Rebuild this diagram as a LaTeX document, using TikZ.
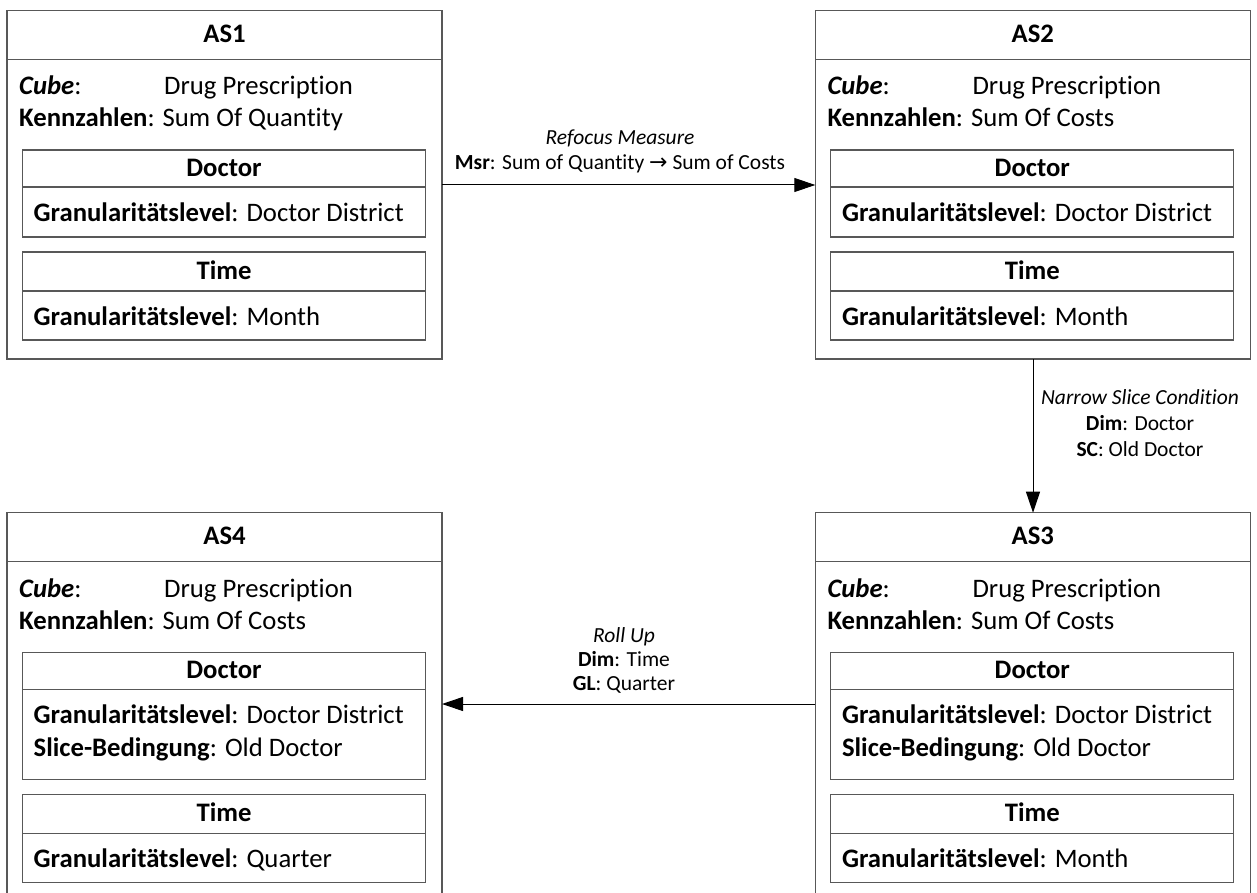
\documentclass[tikz,border=0pt]{standalone}
\usepackage{fontspec}
\setmainfont{Carlito}[Ligatures=NoCommon]
\newfontfamily\symfont{DejaVu Sans}
\usetikzlibrary{arrows.meta}

\definecolor{boxgray}{RGB}{88,88,88}
\newcommand\bodysize{\fontsize{26.7}{32.5}\selectfont}
\newcommand\lblsize{\fontsize{21.5}{25}\selectfont}

\tikzset{
  outerbox/.style={draw=boxgray, line width=1.1pt, rectangle, inner sep=0pt, outer sep=0pt},
  innerbox/.style={draw=boxgray, line width=1.1pt, rectangle, inner sep=0pt, outer sep=0pt},
  divider/.style={draw=boxgray, line width=1.1pt},
  ttl/.style={font=\bodysize\bfseries, anchor=base, inner sep=0pt},
  txt/.style={font=\bodysize, anchor=base west, inner sep=0pt},
  lbl/.style={font=\lblsize, anchor=base, inner sep=0pt},
  arr/.style={draw=black, line width=1pt, -{Triangle[length=21pt,width=14pt]}}
}

% #1 name, #2 left, #3 top, #4 title, #5 measure, #6 extra height of the Doctor box,
% #7 time level, #8 outer height
\newcommand\asbox[8]{%
  \begin{scope}[shift={(#2,#3)}]
    \node[outerbox, minimum width=435pt, minimum height=#8pt, anchor=north west] (#1) at (0,0) {};
    \draw[divider] (0,49) -- (435,49);
    \node[ttl] (#1-title) at (217.5,32) {#4};
    \node[txt] (#1-cube) at (12,84.5) {\textbf{\textit{Cube}}:};
    \node[txt] (#1-cubev) at (157,84.5) {Drug Prescription};
    \node[txt] (#1-kz) at (12,116.5) {\textbf{Kennzahlen}: #5};
    % Doctor dimension
    \node[innerbox, minimum width=403pt, minimum height={87pt+#6pt}, anchor=north west] (#1-doc) at (15.5,139.5) {};
    \draw[divider] (15.5,176.5) -- (418.5,176.5);
    \node[ttl] (#1-doct) at (217,166) {Doctor};
    \node[txt] (#1-docgl) at (26.5,211) {\textbf{Granularitätslevel}: Doctor District};
    % Time dimension
    \node[innerbox, minimum width=403pt, minimum height=88pt, anchor=north west] (#1-time) at (15.5,241.5+#6) {};
    \draw[divider] (15.5,280.5+#6) -- (418.5,280.5+#6);
    \node[ttl] (#1-timet) at (217,269+#6) {Time};
    \node[txt] (#1-timegl) at (26.5,314.5+#6) {\textbf{Granularitätslevel}: #7};
  \end{scope}%
}

\begin{document}
\begin{tikzpicture}[x=1pt, y=-1pt]
  \clip (0,0) rectangle (1257,893);
  \fill[white] (0,0) rectangle (1257,893);

  \asbox{as1}{7}{10.5}{AS1}{Sum Of Quantity}{0}{Month}{348.5}
  \asbox{as2}{815.3}{10.5}{AS2}{Sum Of Costs}{0}{Month}{348.5}
  \asbox{as3}{815.3}{512.7}{AS3}{Sum Of Costs}{40}{Month}{420}
  \asbox{as4}{7}{512.7}{AS4}{Sum Of Costs}{40}{Quarter}{420}

  % slice conditions
  \node[txt] (as3-slice) at (815.3+26.5,512.7+243.5) {\textbf{Slice-Bedingung}: Old Doctor};
  \node[txt] (as4-slice) at (7+26.5,512.7+243.5) {\textbf{Slice-Bedingung}: Old Doctor};

  % operations
  \draw[arr] (as1.east |- 0,185) -- (as2.west |- 0,185);
  \node[lbl] (op1a) at (620,145) {\textit{Refocus Measure}};
  \node[lbl] (op1b) at (620,170) {\textbf{Msr}: Sum of Quantity {\symfont\fontsize{22}{24}\selectfont →} Sum of Costs};

  \draw[arr] (as2.south -| 1033,0) -- (as3.north -| 1033,0);
  \node[lbl] (op2a) at (1140,404) {\textit{Narrow Slice Condition}};
  \node[lbl] (op2b) at (1140,430) {\textbf{Dim}: Doctor};
  \node[lbl] (op2c) at (1140,456) {\textbf{SC}: Old Doctor};

  \draw[arr] (as3.west |- 0,704) -- (as4.east |- 0,704);
  \node[lbl] (op3a) at (624,642) {\textit{Roll Up}};
  \node[lbl] (op3b) at (624,666) {\textbf{Dim}: Time};
  \node[lbl] (op3c) at (624,690) {\textbf{GL}: Quarter};
\end{tikzpicture}
\end{document}
